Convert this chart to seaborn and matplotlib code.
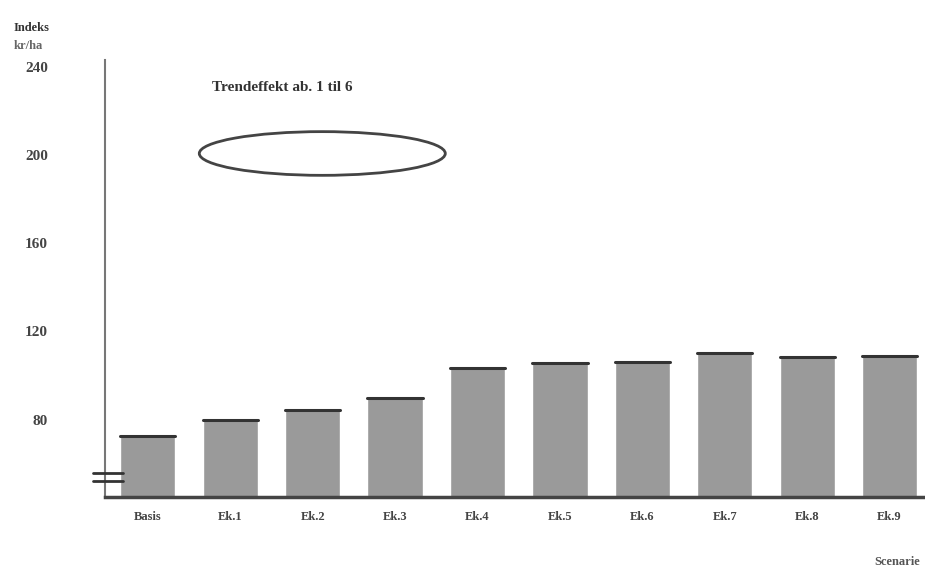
import numpy as np
import pandas as pd
import seaborn as sns
import matplotlib.pyplot as plt
from matplotlib.patches import Ellipse

# Values
scenarios = ["Basis", "Ek.1", "Ek.2", "Ek.3", "Ek.4", "Ek.5", "Ek.6", "Ek.7", "Ek.8", "Ek.9"]
values = [72.7, 80.0, 84.5, 90.0, 103.6, 105.8, 106.3, 110.4, 108.6, 109.0]
yticks = [80, 120, 160, 200, 240]

df = pd.DataFrame({"Scenarie": scenarios, "Indeks": values})

sns.set_style("white")
plt.rcParams['font.family'] = ['Liberation Serif', 'DejaVu Serif']

fig = plt.figure(figsize=(9.25, 5.71), dpi=100)
ax = fig.add_axes([0.1135, 0.1296, 0.8865, 0.7654])

sns.barplot(x="Scenarie", y="Indeks", data=df, color="#9a9a9a", width=0.67,
            saturation=1, ax=ax, zorder=2)
for bar in ax.patches:
    x0 = bar.get_x()
    w = bar.get_width()
    h = bar.get_height()
    ax.plot([x0, x0 + w], [h, h], color="#333333", lw=2.2, zorder=3)

ax.set_xlim(-0.52, 9.43)
ax.set_ylim(45, 243)
ax.set_yticks(yticks)
ax.set_yticklabels([str(v) for v in yticks], fontsize=11, fontweight="bold",
                   color="#444444")
ax.tick_params(axis="y", length=5, width=1.5, color="#555555", pad=36, direction="out")
ax.set_xticks(range(len(scenarios)))
ax.set_xticklabels(scenarios, fontsize=9, fontweight="bold", color="#444444")
ax.tick_params(axis="x", length=0, pad=10)
ax.set_xticks(np.arange(len(scenarios)) - 0.5, minor=True)
ax.tick_params(axis="x", which="minor", length=4, width=1.5, color="#666666")
ax.set_xlabel("")
ax.set_ylabel("")

for side in ["top", "right"]:
    ax.spines[side].set_visible(False)
ax.spines["left"].set_color("#777777")
ax.spines["left"].set_linewidth(1.5)
ax.spines["bottom"].set_color("#444444")
ax.spines["bottom"].set_linewidth(2.5)

# axis break marks
for yb in [0.036, 0.056]:
    ax.plot([-0.015, 0.022], [yb, yb], transform=ax.transAxes, color="#333333",
            lw=2, clip_on=False, zorder=5)

ax.text(0.13, 0.93, "Trendeffekt ab. 1 til 6", transform=ax.transAxes,
        fontsize=11, fontweight="bold", color="#333333")
ax.add_patch(Ellipse((0.265, 0.786), 0.30, 0.10, transform=ax.transAxes,
                     facecolor="none", edgecolor="#444444", lw=2, zorder=4))

fig.text(0.015, 0.945, "Indeks", fontsize=9, fontweight="bold", color="#333333")
fig.text(0.015, 0.915, "kr/ha", fontsize=9, fontweight="bold", color="#666666")
fig.text(0.995, 0.01, "Scenarie", fontsize=9, fontweight="bold", color="#555555",
         ha="right")

fig.savefig("out.png", dpi=100)
